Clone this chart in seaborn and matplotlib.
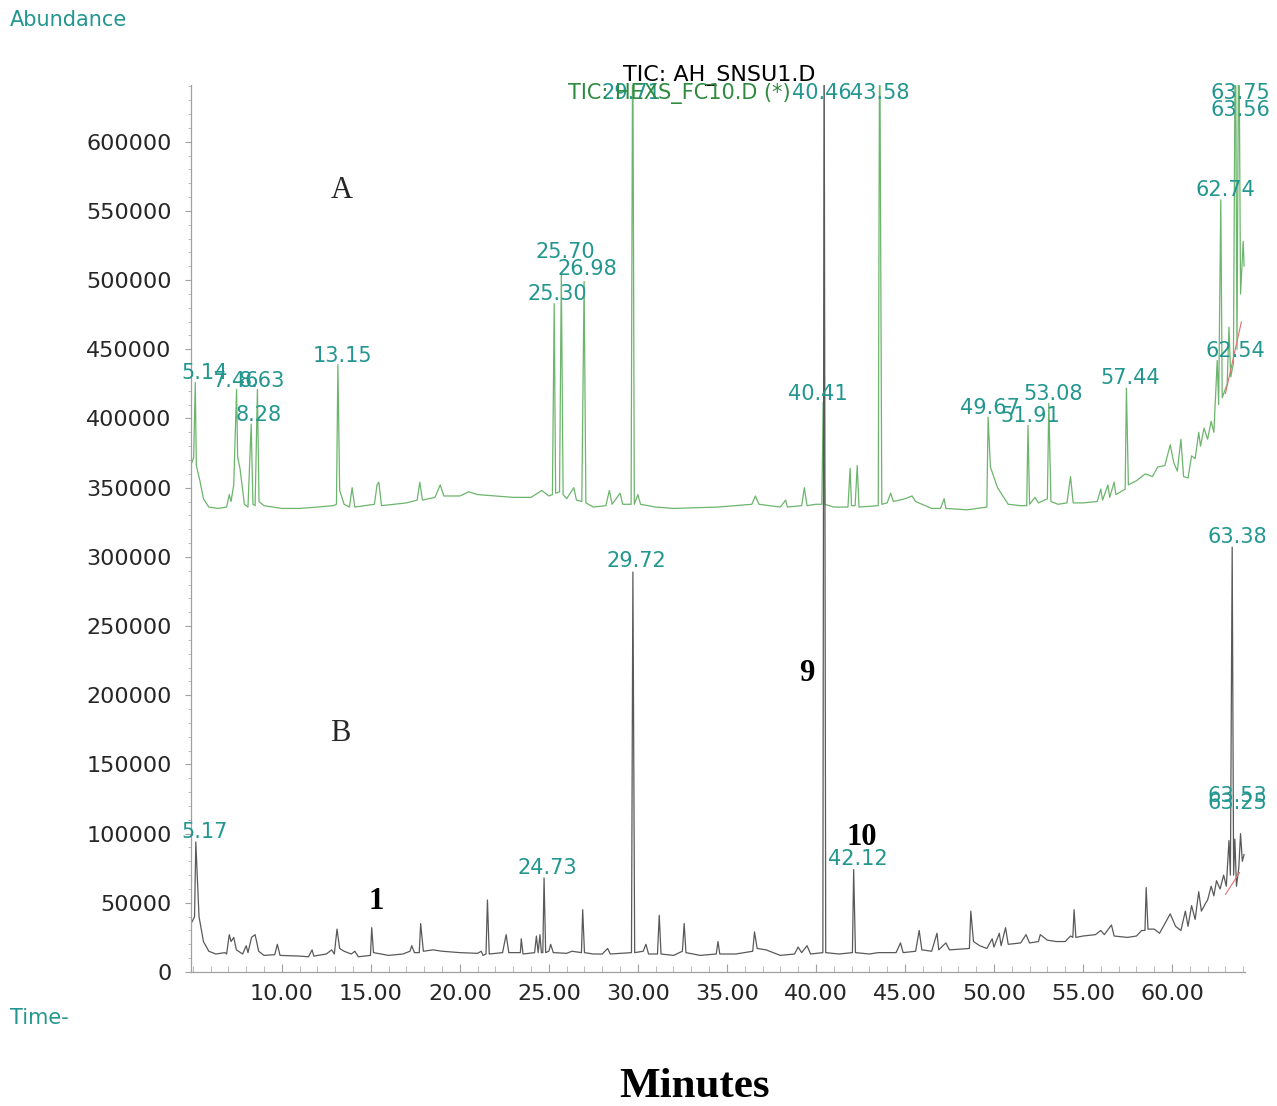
import numpy as np
import seaborn as sns
import matplotlib.pyplot as plt
from matplotlib.ticker import MultipleLocator, FixedLocator

# chromatogram A (green, upper trace): (time min, abundance)
a_trace = [
    (4.95, 368000), (5.05, 372000), (5.14, 426000), (5.2, 366000), (5.4, 355000), (5.6, 342000),
    (5.9, 336000), (6.4, 335000), (6.9, 336000), (7.05, 345000), (7.15, 340000), (7.3, 352000),
    (7.46, 421000), (7.52, 372000), (7.65, 364000), (7.9, 338000), (8.1, 336000), (8.28, 396000),
    (8.38, 338000), (8.5, 337000), (8.63, 421000), (8.72, 340000), (9.0, 337000), (10.0, 335000),
    (11.0, 335000), (12.0, 336000), (12.9, 337000), (13.07, 338000), (13.15, 439000), (13.25, 348000),
    (13.5, 338000), (13.8, 336000), (13.95, 350000), (14.1, 336000), (15.2, 338000), (15.35, 352000),
    (15.45, 354000), (15.6, 337000), (17.0, 339000), (17.6, 341000), (17.75, 354000), (17.9, 341000),
    (18.6, 343000), (18.9, 352000), (19.1, 344000), (20.0, 344000), (20.5, 347000), (21.0, 345000),
    (22.0, 344000), (23.0, 343000), (24.0, 343000), (24.6, 348000), (25.0, 344000), (25.2, 345000),
    (25.30, 483000), (25.38, 346000), (25.6, 347000), (25.70, 504000), (25.8, 345000), (26.0, 342000),
    (26.4, 350000), (26.55, 341000), (26.85, 340000), (26.98, 499000), (27.08, 339000), (27.5, 336000),
    (28.2, 337000), (28.4, 348000), (28.55, 338000), (29.0, 346000), (29.15, 338000), (29.62, 338000),
    (29.71, 700000), (29.8, 338000), (30.0, 345000), (30.15, 338000), (31.0, 336000), (32.0, 335000),
    (34.5, 336000), (36.4, 338000), (36.6, 344000), (36.8, 338000), (38.0, 336000), (38.3, 341000),
    (38.4, 336000), (39.2, 337000), (39.35, 350000), (39.5, 337000), (40.0, 338000), (40.33, 338000),
    (40.41, 412000), (40.5, 338000), (41.0, 336000), (41.8, 336000), (41.92, 364000), (42.0, 337000),
    (42.2, 337000), (42.32, 366000), (42.42, 336000), (43.5, 337000), (43.58, 700000), (43.7, 338000),
    (44.0, 339000), (44.2, 346000), (44.35, 340000), (45.0, 342000), (45.4, 344000), (45.6, 340000),
    (46.5, 335000), (47.0, 335000), (47.2, 342000), (47.3, 335000), (48.5, 334000), (49.6, 336000),
    (49.67, 401000), (49.8, 365000), (50.2, 350000), (50.8, 338000), (51.5, 337000), (51.84, 337000),
    (51.91, 395000), (52.0, 338000), (52.3, 343000), (52.5, 339000), (53.0, 342000), (53.08, 411000),
    (53.2, 340000), (53.6, 338000), (54.1, 339000), (54.3, 358000), (54.45, 339000), (55.0, 339000),
    (55.8, 340000), (56.0, 349000), (56.1, 341000), (56.4, 352000), (56.5, 343000), (56.75, 354000),
    (56.85, 345000), (57.37, 349000), (57.44, 422000), (57.55, 352000), (58.0, 355000), (58.5, 360000),
    (58.9, 358000), (59.2, 365000), (59.6, 366000), (59.9, 381000), (60.1, 368000), (60.3, 362000),
    (60.5, 385000), (60.65, 358000), (60.9, 357000), (61.1, 373000), (61.3, 371000), (61.5, 390000),
    (61.6, 380000), (61.8, 393000), (62.0, 385000), (62.2, 398000), (62.35, 390000), (62.54, 442000),
    (62.62, 410000), (62.74, 558000), (62.82, 415000), (63.1, 425000), (63.2, 466000), (63.3, 430000),
    (63.45, 440000), (63.56, 700000), (63.65, 450000), (63.75, 700000), (63.85, 490000),
    (64.0, 528000), (64.05, 510000),
]

# chromatogram B (dark grey, lower trace)
b_trace = [
    (4.95, 36000), (5.1, 40000), (5.17, 94000), (5.25, 70000), (5.35, 40000), (5.6, 22000),
    (5.9, 15000), (6.3, 13000), (6.8, 14000), (6.9, 13000), (7.05, 27000), (7.15, 22000),
    (7.3, 25000), (7.45, 16000), (7.8, 13000), (8.0, 19000), (8.1, 14000), (8.3, 25000),
    (8.5, 27000), (8.7, 15000), (9.0, 12000), (9.6, 12500), (9.75, 20000), (9.9, 12000),
    (11.0, 11500), (11.5, 11000), (11.7, 16000), (11.8, 11500), (12.5, 13000), (12.8, 16000),
    (12.95, 13000), (13.1, 31000), (13.25, 17000), (13.5, 15000), (13.9, 13000), (14.1, 15000),
    (14.3, 11000), (14.98, 12000), (15.05, 32000), (15.15, 14000), (16.0, 12000), (16.8, 13000),
    (17.2, 15000), (17.3, 19000), (17.45, 14000), (17.72, 14000), (17.8, 35000), (17.95, 15000),
    (18.5, 16000), (19.0, 15000), (20.0, 14000), (21.0, 13500), (21.2, 15000), (21.3, 12000),
    (21.47, 13000), (21.55, 52000), (21.65, 13000), (22.4, 14000), (22.6, 27000), (22.75, 14000),
    (23.4, 14000), (23.45, 24000), (23.55, 13000), (24.2, 14000), (24.3, 26000), (24.4, 14000),
    (24.5, 27000), (24.58, 14000), (24.66, 14000), (24.73, 68000), (24.82, 14000), (25.0, 15000),
    (25.1, 20000), (25.25, 14000), (26.0, 13500), (26.3, 15000), (26.83, 14000), (26.9, 45000),
    (27.0, 14000), (27.5, 13000), (28.0, 13000), (28.3, 17000), (28.45, 13000), (29.64, 14000),
    (29.72, 289000), (29.82, 14000), (30.3, 15000), (30.45, 20000), (30.6, 13000), (31.1, 13000),
    (31.2, 41000), (31.3, 13000), (32.0, 12000), (32.5, 15000), (32.6, 35000), (32.7, 14000),
    (33.5, 12000), (34.4, 13000), (34.5, 22000), (34.6, 13000), (35.5, 13000), (36.45, 15000),
    (36.55, 29000), (36.7, 17000), (37.2, 16000), (38.0, 12000), (38.8, 13000), (39.0, 18000),
    (39.2, 14000), (39.5, 19000), (39.7, 13000), (40.39, 14000), (40.46, 700000), (40.55, 14000),
    (41.3, 13000), (42.05, 14000), (42.12, 74000), (42.22, 14000), (43.0, 13000), (43.5, 14000),
    (44.5, 14000), (44.75, 21000), (44.9, 14000), (45.6, 15000), (45.8, 30000), (45.95, 16000),
    (46.5, 15000), (46.8, 28000), (46.9, 16000), (47.3, 21000), (47.5, 16000), (48.62, 17000),
    (48.7, 44000), (48.85, 22000), (49.2, 19000), (49.6, 17000), (49.9, 24000), (50.0, 18000),
    (50.3, 28000), (50.4, 19000), (50.65, 32000), (50.8, 20000), (51.5, 21000), (51.8, 27000),
    (52.0, 21000), (52.5, 22000), (52.6, 27000), (53.0, 23000), (53.5, 22000), (54.0, 22000),
    (54.3, 26000), (54.43, 25000), (54.5, 45000), (54.6, 25000), (55.0, 26000), (55.7, 27000),
    (56.0, 30000), (56.2, 27000), (56.6, 34000), (56.75, 26000), (57.5, 25000), (58.0, 26000),
    (58.3, 30000), (58.48, 30000), (58.55, 61000), (58.65, 31000), (59.0, 31000), (59.3, 28000),
    (59.9, 42000), (60.2, 33000), (60.5, 30000), (60.75, 44000), (60.9, 33000), (61.1, 48000),
    (61.3, 38000), (61.5, 58000), (61.65, 44000), (61.9, 50000), (62.0, 52000), (62.2, 62000),
    (62.35, 55000), (62.5, 66000), (62.7, 60000), (62.9, 70000), (63.05, 62000), (63.2, 95000),
    (63.28, 70000), (63.38, 307000), (63.46, 70000), (63.53, 96000), (63.62, 62000), (63.75, 75000),
    (63.85, 100000), (63.95, 80000), (64.05, 85000),
]

# integration baselines (red)
a_base_t = [63.0, 63.9]
a_base_v = [418000, 470000]
b_base_t = [63.0, 63.8]
b_base_v = [56000, 72000]

# peak annotations: label centre (time, abundance) and text
a_lab_t = [5.67, 7.42, 8.88, 8.71, 13.43, 25.5, 25.9, 27.19, 29.61, 40.34, 43.6,
           40.11, 49.78, 52.02, 53.31, 57.64, 63.54, 62.98, 63.82, 63.82]
a_lab_v = [433000, 427000, 427000, 402700, 445300, 490100, 520500, 508200, 635400, 635400, 635400,
           417800, 407700, 401900, 417800, 429400, 449000, 565300, 623100, 635400]
a_lab_txt = ["5.14", "7.46", "8.63", "8.28", "13.15", "25.30", "25.70", "26.98", "29.71", "40.46",
             "43.58", "40.41", "49.67", "51.91", "53.08", "57.44", "62.54", "62.74", "63.56", "63.75"]

b_lab_t = [5.67, 24.94, 29.94, 42.36, 63.65, 63.65, 63.65]
b_lab_v = [101200, 75200, 297100, 81700, 314500, 127200, 122200]
b_lab_txt = ["5.17", "24.73", "29.72", "42.12", "63.38", "63.53", "63.25"]

# compound numbers marked on trace B
num_t = [15.3, 39.5, 42.6]
num_v = [51000, 216000, 97000]
num_txt = ["1", "9", "10"]

y_ticks = [0, 50000, 100000, 150000, 200000, 250000, 300000, 350000,
           400000, 450000, 500000, 550000, 600000]
x_ticks = [10, 15, 20, 25, 30, 35, 40, 45, 50, 55, 60]

TEAL = "#22968f"

sns.set_style("white")
plt.rcParams["font.family"] = ["DejaVu Sans"]

W, H = 1277, 1106
fig = plt.figure(figsize=(W / 100, H / 100), dpi=100)
ax = fig.add_axes([191 / W, 1 - 972 / H, (1245 - 191) / W, (972 - 85) / H])

a_t, a_v = zip(*a_trace)
b_t, b_v = zip(*b_trace)
sns.lineplot(x=list(a_t), y=list(a_v), ax=ax, color="#6cb56c", lw=0.9,
             estimator=None, sort=False)
sns.lineplot(x=list(b_t), y=list(b_v), ax=ax, color="#595959", lw=0.9,
             estimator=None, sort=False)
ax.plot(a_base_t, a_base_v, color="#e07070", lw=0.8)
ax.plot(b_base_t, b_base_v, color="#e07070", lw=0.8)

for t, v, s in zip(a_lab_t, a_lab_v, a_lab_txt):
    ax.text(t, v, s, color=TEAL, fontsize=15, ha="center", va="center", clip_on=False)
for t, v, s in zip(b_lab_t, b_lab_v, b_lab_txt):
    ax.text(t, v, s, color=TEAL, fontsize=15, ha="center", va="center", clip_on=False)
for t, v, s in zip(num_t, num_v, num_txt):
    ax.text(t, v, s, color="black", fontsize=22, fontweight="bold", ha="center", va="center",
            family=["Liberation Serif"])

ax.text(13.35, 565000, "A", fontsize=22, ha="center", va="center", family=["Liberation Serif"])
ax.text(13.3, 172000, "B", fontsize=22, ha="center", va="center", family=["Liberation Serif"])

ax.set_xlim(4.9, 64.1)
ax.set_ylim(0, 641000)
ax.set_xlabel("")
ax.set_ylabel("")

ax.yaxis.set_major_locator(FixedLocator(y_ticks))
ax.yaxis.set_minor_locator(MultipleLocator(10000))
ax.set_yticklabels([str(v) for v in y_ticks])
ax.xaxis.set_major_locator(FixedLocator(x_ticks))
ax.xaxis.set_minor_locator(MultipleLocator(1))
ax.set_xticklabels(["%.2f" % v for v in x_ticks])

for side in ["top", "right"]:
    ax.spines[side].set_visible(False)
for side in ["left", "bottom"]:
    ax.spines[side].set_color("#a0a0a0")
    ax.spines[side].set_linewidth(0.9)

ax.tick_params(axis="y", which="major", direction="out", length=4, color="#a0a0a0",
               labelsize=16, pad=10, left=True)
ax.tick_params(axis="y", which="minor", direction="out", length=2, color="#b0b0b0", left=True)
ax.tick_params(axis="x", which="major", direction="in", length=6, color="#a0a0a0",
               labelsize=16, pad=9, bottom=True)
ax.tick_params(axis="x", which="minor", direction="in", length=4, color="#b0b0b0", bottom=True)

fig.text(10 / W, 1 - 20 / H, "Abundance", color=TEAL, fontsize=15, ha="left", va="center")
fig.text(10 / W, 1 - 1018 / H, "Time-", color=TEAL, fontsize=15, ha="left", va="center")
fig.text(719 / W, 1 - 75 / H, "TIC: AH_SNSU1.D", color="black", fontsize=16,
         ha="center", va="center")
fig.text(568 / W, 1 - 93 / H, "TIC: HEXS_FC10.D (*)", color="#2e8b3e", fontsize=15,
         ha="left", va="center")
fig.text(694 / W, 1 - 1087 / H, "Minutes", color="black", fontsize=31, fontweight="bold",
         ha="center", va="center", family=["Liberation Serif"])

fig.savefig("out.png", dpi=100)
